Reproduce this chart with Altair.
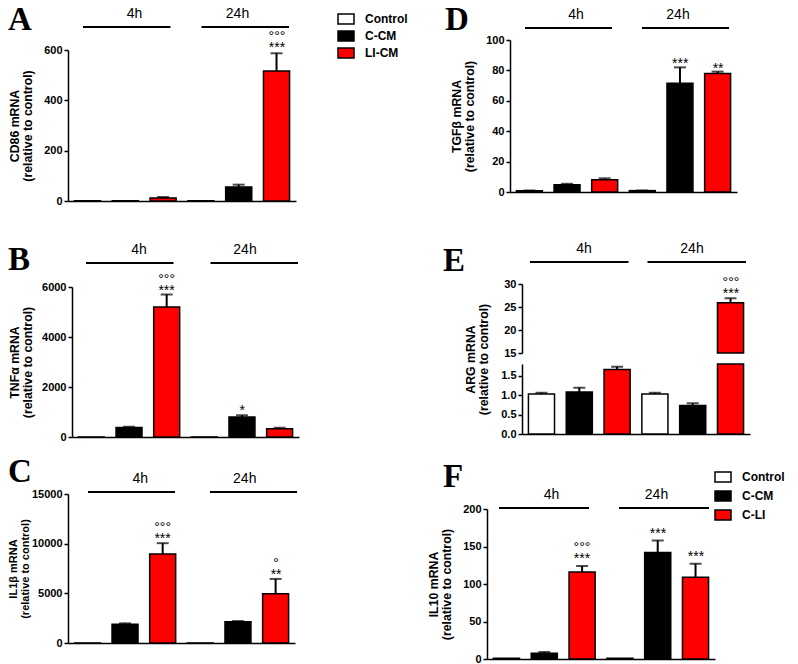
import altair as alt
import pandas as pd

# ---------------- data ----------------
groups = ["4h", "24h"]
treat_main = ["Control", "C-CM", "LI-CM"]
treat_f = ["Control", "C-CM", "C-LI"]
bar_colors = ["#ffffff", "#000000", "#ff0000"]
panel_letters = ["A", "B", "C", "D", "E", "F"]
rel = "(relative to control)"

cd86_mean = [1, 1, 12, 1, 56, 517]
cd86_err = [0, 0, 4, 0, 9, 70]
cd86_stars = ["", "", "", "", "", "***"]
cd86_circ = ["", "", "", "", "", "°°°"]

tnfa_mean = [1, 380, 5200, 1, 800, 330]
tnfa_err = [0, 30, 500, 0, 70, 40]
tnfa_stars = ["", "", "***", "", "*", ""]
tnfa_circ = ["", "", "°°°", "", "", ""]

il1b_mean = [1, 1900, 8950, 1, 2150, 4950]
il1b_err = [0, 80, 1100, 0, 60, 1500]
il1b_stars = ["", "", "***", "", "", "**"]
il1b_circ = ["", "", "°°°", "", "", "°"]

tgfb_mean = [0.9, 4.8, 8.1, 0.9, 71.5, 78]
tgfb_err = [0.1, 0.6, 0.9, 0.1, 10.5, 1.2]
tgfb_stars = ["", "", "", "", "***", "**"]
tgfb_circ = ["", "", "", "", "", ""]

arg_mean = [1.03, 1.08, 1.66, 1.03, 0.73, 25.9]
arg_err = [0.03, 0.11, 0.07, 0.03, 0.06, 1.0]
arg_stars = ["", "", "", "", "", "***"]
arg_circ = ["", "", "", "", "", "°°°"]

il10_mean = [1, 7.6, 116, 1, 142, 109]
il10_err = [0, 1.7, 8, 0, 16, 18]
il10_stars = ["", "", "***", "", "***", "***"]
il10_circ = ["", "", "°°°", "", "", ""]

# ---------------- layout ----------------
FONT = "Liberation Sans"
W, H = 782, 656

panels = [
    dict(letter=panel_letters[0], title=["CD86 mRNA", rel], mean=cd86_mean, err=cd86_err,
         stars=cd86_stars, circ=cd86_circ, treats=treat_main, x=(60, 288),
         segs=[dict(domain=(0, 600), range=(193, 42), ticks=[0, 200, 400, 600], fmt="d")],
         gl=(75, 281, 87.5), gy=19, lpos=(0, 22), sdy=-1,
         legend=dict(x=329, y=2, rp=0)),
    dict(letter=panel_letters[1], title=["TNFα mRNA", rel], mean=tnfa_mean, err=tnfa_err,
         stars=tnfa_stars, circ=tnfa_circ, treats=treat_main, x=(64, 291),
         segs=[dict(domain=(0, 6000), range=(429, 279), ticks=[0, 2000, 4000, 6000], fmt="d")],
         gl=(78, 290, 87.5), gy=255, lpos=(0, 262), sdy=0,
         tstyle=dict(titlePadding=7)),
    dict(letter=panel_letters[2], title=["IL1β mRNA", rel], mean=il1b_mean, err=il1b_err,
         stars=il1b_stars, circ=il1b_circ, treats=treat_main, x=(60, 287),
         segs=[dict(domain=(0, 15000), range=(635, 486), ticks=[0, 5000, 10000, 15000], fmt="d")],
         gl=(80, 289, 87), gy=484, lpos=(0, 474), sdy=0,
         tstyle=dict(titleFontSize=11, titleLineHeight=12, titlePadding=1)),
    dict(letter=panel_letters[3], title=["TGFβ mRNA", rel], mean=tgfb_mean, err=tgfb_err,
         stars=tgfb_stars, circ=tgfb_circ, treats=treat_main, x=(502, 729),
         segs=[dict(domain=(0, 100), range=(184, 32), ticks=[0, 20, 40, 60, 80, 100], fmt="d")],
         gl=(517, 721, 87), gy=20, lpos=(437, 22), sdy=1),
    dict(letter=panel_letters[4], title=["ARG mRNA", rel], mean=arg_mean, err=arg_err,
         stars=arg_stars, circ=arg_circ, treats=treat_main, x=(514, 742),
         segs=[dict(domain=(0, 1.8), range=(426, 356), ticks=[0, 0.5, 1.0, 1.5], fmt=".1f",
                    title_pos=(-45, 351)),
               dict(domain=(15, 30), range=(345, 276), ticks=[15, 20, 25, 30], fmt="d")],
         gl=(522, 738, 98.5), gy=254, lpos=(435, 263), sdy=0),
    dict(letter=panel_letters[5], title=["IL10 mRNA", rel], mean=il10_mean, err=il10_err,
         stars=il10_stars, circ=il10_circ, treats=treat_f, x=(479, 707),
         segs=[dict(domain=(0, 200), range=(651, 501), ticks=[0, 50, 100, 150, 200], fmt="d")],
         gl=(491, 701, 90), gy=500, lpos=(435, 479), sdy=-3,
         legend=dict(x=706, y=460, rp=2)),
]

RECT = "M-1,-0.625L1,-0.625L1,0.625L-1,0.625Z"

layers = []
for P in panels:
    rows = []
    for gi, g in enumerate(groups):
        for ti, t in enumerate(P["treats"]):
            i = gi * 3 + ti
            rows.append({"bar": f"{g} {t}", "group": g, "treat": t,
                         "mean": P["mean"][i], "err": P["err"][i],
                         "top": P["mean"][i] + P["err"][i],
                         "stars": P["stars"][i], "circ": P["circ"][i]})
    df = pd.DataFrame(rows)
    xs = alt.Scale(domain=list(df["bar"]), range=list(P["x"]), paddingInner=0.31, paddingOuter=0.17)

    for si, seg in enumerate(P["segs"]):
        d0, d1 = seg["domain"]
        ys = alt.Scale(domain=[d0, d1], range=list(seg["range"]), nice=False, zero=False, clamp=True)
        ax_kw = dict(orient="left", offset=-P["x"][0], values=seg["ticks"], format=seg["fmt"])
        if si == 0:
            ax_kw["title"] = P["title"]
            ax_kw.update(P.get("tstyle", {}))
            if "title_pos" in seg:
                ax_kw["titleX"], ax_kw["titleY"] = seg["title_pos"]
        else:
            ax_kw["title"] = None
        if si == 0:
            xaxis = alt.Axis(orient="bottom", offset=seg["range"][0] - H, labels=False,
                             ticks=False, title=None)
        else:
            xaxis = None
        if si == 0 and "legend" in P:
            lg = P["legend"]
            legend = alt.Legend(orient="none", legendX=lg["x"], legendY=lg["y"], title=None,
                                symbolType=RECT, symbolSize=256, symbolStrokeColor="black",
                                symbolStrokeWidth=1.5, labelFont=FONT, labelFontSize=12,
                                labelFontWeight="bold", labelColor="black", labelOffset=10,
                                rowPadding=lg["rp"], padding=0, symbolOpacity=1)
        else:
            legend = None

        rng = f"datum.top >= {d0} && datum.top <= {d1}"
        rule = alt.Chart(df).transform_filter(f"datum.err > 0 && {rng}").mark_rule(
            color="black", strokeWidth=2).encode(
            x=alt.X("bar:N", scale=xs, axis=None),
            y=alt.Y("mean:Q", scale=ys, axis=None),
            y2="top:Q")
        bars = alt.Chart(df).transform_filter(f"datum.mean > {d0}").mark_bar(
            stroke="black", strokeWidth=1.5).encode(
            x=alt.X("bar:N", scale=xs, axis=xaxis),
            y=alt.Y("mean:Q", scale=ys, axis=alt.Axis(**ax_kw)),
            y2=alt.datum(d0),
            fill=alt.Fill("treat:N", scale=alt.Scale(domain=P["treats"], range=bar_colors),
                          legend=legend))
        cap = alt.Chart(df).transform_filter(f"datum.err > 0 && {rng}").mark_tick(
            color="black", size=12, thickness=2, orient="horizontal").encode(
            x=alt.X("bar:N", scale=xs, axis=None),
            y=alt.Y("top:Q", scale=ys, axis=None))
        st = alt.Chart(df).transform_filter(f"datum.stars != '' && {rng}").mark_text(
            font=FONT, fontSize=14, baseline="alphabetic", dy=P["sdy"], color="black").encode(
            x=alt.X("bar:N", scale=xs, axis=None),
            y=alt.Y("top:Q", scale=ys, axis=None),
            text="stars:N")
        ci = alt.Chart(df).transform_filter(f"datum.circ != '' && {rng}").mark_text(
            font=FONT, fontSize=14, baseline="alphabetic", dy=P["sdy"] - 11, color="black").encode(
            x=alt.X("bar:N", scale=xs, axis=None),
            y=alt.Y("top:Q", scale=ys, axis=None),
            text="circ:N")
        layers += [rule, bars, cap, st, ci]

    L, R, bw = P["gl"]
    step = R - L - bw
    gs = alt.Scale(domain=groups, range=[L, R], paddingInner=1 - bw / step, paddingOuter=0)
    gdf = pd.DataFrame({"group": groups})
    gline = alt.Chart(gdf).mark_bar(color="black").encode(
        x=alt.X("group:N", scale=gs, axis=None),
        y=alt.value(P["gy"] - 1), y2=alt.value(P["gy"] + 1))
    glab = alt.Chart(gdf).mark_text(font=FONT, fontSize=14, baseline="alphabetic",
                                    color="black").encode(
        x=alt.X("group:N", scale=gs, axis=None),
        y=alt.value(P["gy"] - 9), text="group:N")
    let = alt.Chart(pd.DataFrame({"letter": [P["letter"]]})).mark_text(
        font="Liberation Serif", fontWeight="bold", fontSize=33, align="left",
        baseline="alphabetic", color="black").encode(
        x=alt.value(P["lpos"][0]), y=alt.value(P["lpos"][1]), text="letter:N")
    layers += [gline, glab, let]

chart = alt.layer(*layers).resolve_scale(
    x="independent", y="independent", fill="independent"
).resolve_legend(fill="independent").properties(
    width=W, height=H, autosize=alt.AutoSizeParams(type="none"), padding=0
).configure_view(stroke=None).configure_axis(
    labelFont=FONT, labelFontSize=11, labelFontWeight="bold", labelColor="black",
    tickColor="black", tickWidth=1.5, tickSize=4, domainColor="black", domainWidth=1.5,
    labelPadding=2, titleFont=FONT, titleFontSize=12.3, titleLineHeight=13.5,
    titleFontWeight="bold", titleColor="black", titlePadding=9, grid=False
)

chart.save("out.html", embed_options={"renderer": "svg", "actions": False})
